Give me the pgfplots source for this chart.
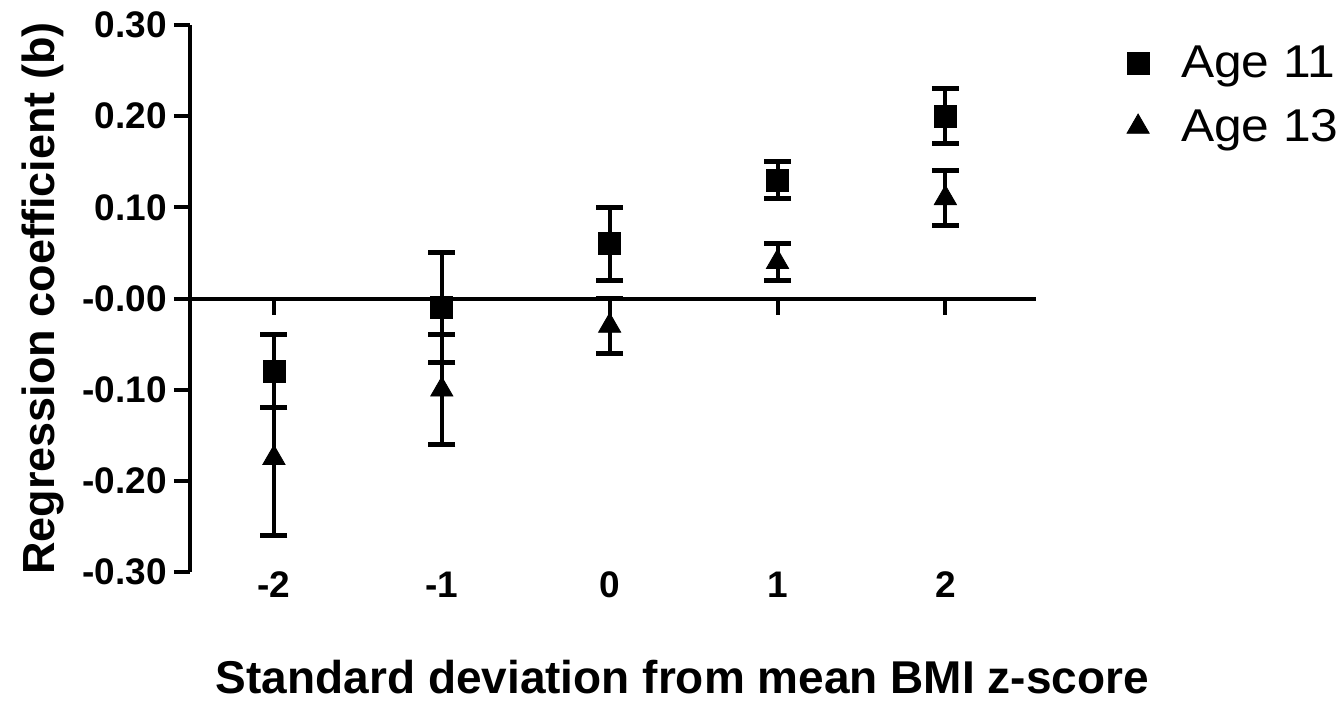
\documentclass[border=0pt]{standalone}
\usepackage{fontspec}
\setmainfont{Liberation Sans}
\newfontfamily\legendfont{Liberation Sans}[FakeStretch=1.08]
\usepackage{pgfplots}
\pgfplotsset{compat=1.18}
\begin{document}
\begin{tikzpicture}
\begin{axis}[
    at={(0,0)}, anchor=south west,
    scale only axis,
    width=423pt, height=273.5pt,
    xmin=-2.5, xmax=2.54,
    ymin=-0.3, ymax=0.3,
    axis x line=middle,
    axis y line=left,
    axis line style={-, line width=2pt},
    hide obscured x ticks=false,
    hide obscured y ticks=false,
    xtick={-2,-1,0,1,2},
    xticklabels={-2,-1,0,1,2},
    ytick={-0.3,-0.2,-0.1,0,0.1,0.2,0.3},
    yticklabels={-0.30,-0.20,-0.10,-0.00,0.10,0.20,0.30},
    minor tick num=0,
    tick align=outside,
    major tick length=8pt,
    tick style={line width=2pt, black},
    ticklabel style={font=\bfseries\fontsize{18.5}{20}\selectfont},
    xticklabel style={anchor=center, yshift=-135pt},
    yticklabel style={anchor=east},
    every axis x label/.style={at={(axis description cs:0.582,-0.222)}, anchor=base,
        font=\bfseries\fontsize{23}{26}\selectfont},
    every axis y label/.style={at={(axis description cs:-0.1607,0.5)}, anchor=base,
        rotate=90, font=\bfseries\fontsize{22.5}{26}\selectfont},
    xlabel={Standard deviation from mean BMI z-score},
    ylabel={Regression coefficient (b)},
    legend style={draw=none, fill=none, at={(axis description cs:1.10,0.872)}, anchor=west,
        font=\legendfont\fontsize{23}{24}\selectfont, row sep=10.5pt, column sep=14pt},
    legend image code/.code={\draw[#1] plot coordinates {(0pt,0pt)};},
    legend cell align=left,
]
% Age 11
\addplot[black, only marks, mark=square*, mark size=5.5pt,
    error bars/.cd, y dir=both, y explicit,
    error bar style={line width=2pt, black},
    error mark options={rotate=90, line width=2.5pt, mark size=6.75pt, black}]
coordinates {
    (-2,-0.08) +- (0,0.04)
    (-1,-0.01) +- (0,0.06)
    (0,0.06)   +- (0,0.04)
    (1,0.13)   +- (0,0.02)
    (2,0.20)   +- (0,0.03)
};
% Age 13
\addplot[black, only marks, mark=triangle*, mark size=6.4pt,
    error bars/.cd, y dir=both, y explicit,
    error bar style={line width=2pt, black},
    error mark options={rotate=90, line width=2.5pt, mark size=6.75pt, black}]
coordinates {
    (-2,-0.175) += (0,0.055) -= (0,0.085)
    (-1,-0.10)  +- (0,0.06)
    (0,-0.03)   +- (0,0.03)
    (1,0.04)    +- (0,0.02)
    (2,0.11)    +- (0,0.03)
};
\legend{Age 11, Age 13}
\end{axis}
\pgfresetboundingbox
\path[use as bounding box] (-95pt,-65.5pt) rectangle (576.5pt,286pt);
\end{tikzpicture}
\end{document}
